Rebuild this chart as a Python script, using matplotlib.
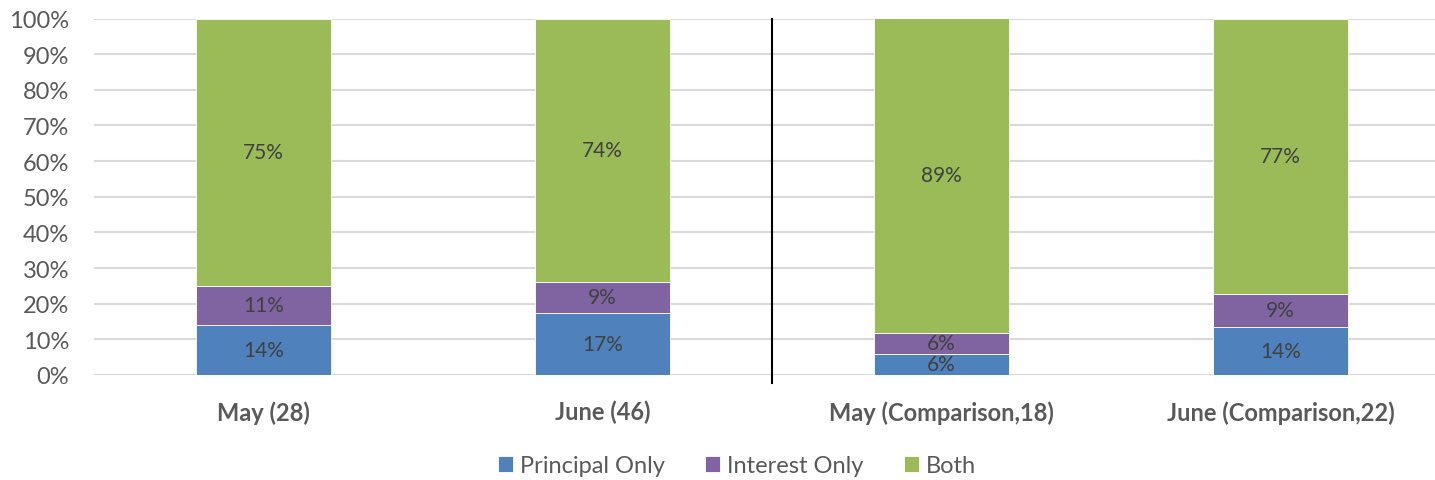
import matplotlib
matplotlib.use("Agg")
import matplotlib.pyplot as plt
import numpy as np

categories = ["May (28)", "June (46)", "May (Comparison,18)", "June (Comparison,22)"]
series_names = ["Principal Only", "Interest Only", "Both"]
principal_only = [14.0, 17.4, 5.9, 13.6]
interest_only = [11.0, 8.7, 6.0, 9.1]
both = [75.0, 73.9, 88.6, 77.3]
colors = ["#4F81BD", "#8064A2", "#9BBB59"]
yticks = [0, 10, 20, 30, 40, 50, 60, 70, 80, 90, 100]

plt.rcParams['font.family'] = ['Lato', 'DejaVu Sans']

fig = plt.figure(figsize=(14.35, 4.81), dpi=100)
W, H = 1435, 481
left_px, right_px, top_px, bot_px = 94, 1450, 19.5, 376
ax = fig.add_axes([left_px / W, (H - bot_px) / H, (right_px - left_px) / W, (bot_px - top_px) / H])

x = np.arange(len(categories))
bottom = np.zeros(len(categories))
for name, vals, c in zip(series_names, [principal_only, interest_only, both], colors):
    vals = np.array(vals)
    ax.bar(x, vals, width=0.4, bottom=bottom, color=c, edgecolor="white",
           linewidth=0.6, label=name, zorder=3)
    for xi, b, v in zip(x, bottom, vals):
        ax.text(xi, b + v / 2, f"{round(v):.0f}%", ha="center", va="center",
                fontsize=15, color="#404040", zorder=4)
    bottom += vals

ax.set_xlim(-0.5, 3.5)
ax.set_ylim(0, 100)
ax.set_yticks(yticks)
ax.set_yticklabels([f"{t}%" for t in yticks], fontsize=17, color="#595959")
ax.set_xticks(x)
ax.set_xticklabels(categories, fontsize=17, fontweight="bold", color="#595959")
ax.tick_params(axis="y", length=0, pad=18)
ax.tick_params(axis="x", length=0, pad=18)
ax.yaxis.grid(True, color="#D9D9D9", linewidth=1.5, zorder=0)
ax.set_axisbelow(True)
for s in ax.spines.values():
    s.set_visible(False)

ax.plot([1.5, 1.5], [-2.2, 100], color="black", linewidth=1.5, clip_on=False, zorder=5)

leg = fig.legend(loc="center", bbox_to_anchor=(737 / W, (H - 467) / H), ncol=3, frameon=False,
                 fontsize=17, handlelength=0.64, handleheight=0.64, columnspacing=1.7,
                 handletextpad=0.3)
for t in leg.get_texts():
    t.set_color("#595959")

fig.savefig("out.png", dpi=100)
